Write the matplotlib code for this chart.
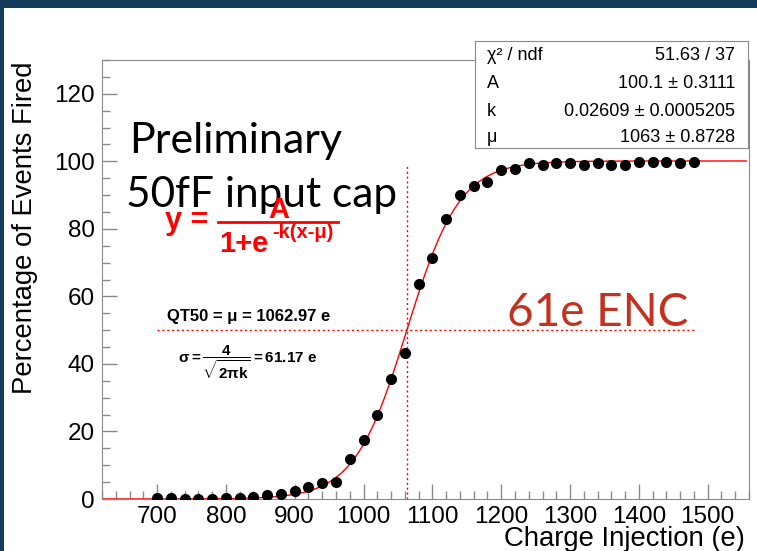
import numpy as np
import matplotlib.pyplot as plt
from matplotlib.patches import Rectangle
from matplotlib.lines import Line2D
from matplotlib.ticker import MultipleLocator

W, H = 757, 551

# measured points: charge injected (e) vs percentage of events fired
charge = [700, 720, 740, 760, 780, 800, 820, 840, 860, 880,
          900, 920, 940, 960, 980, 1000, 1020, 1040, 1060, 1080,
          1100, 1120, 1140, 1160, 1180, 1200, 1220, 1240, 1260, 1280,
          1300, 1320, 1340, 1360, 1380, 1400, 1420, 1440, 1460, 1480]
fired = [0.2, 0.2, 0.0, 0.1, 0.0, 0.2, 0.2, 0.7, 1.2, 1.5,
         2.3, 3.6, 4.6, 5.1, 11.8, 17.4, 24.8, 35.5, 43.2, 63.8,
         71.3, 82.8, 89.9, 92.8, 93.8, 97.3, 97.7, 99.4, 99.0, 99.6,
         99.4, 99.0, 99.4, 99.0, 99.0, 99.8, 99.8, 99.8, 99.4, 99.8]

# fit results (from the stats box)
A_fit, k_fit, mu_fit = 100.1, 0.02609, 1063.0
qt50 = 1062.97

stat_names = ["χ² / ndf", "A", "k", "μ"]
stat_values = ["51.63 / 37", "100.1 ± 0.3111", "0.02609 ± 0.0005205", "1063 ± 0.8728"]

plt.rcParams['font.family'] = ['Liberation Sans', 'DejaVu Sans']
plt.rcParams['mathtext.fontset'] = 'custom'
plt.rcParams['mathtext.rm'] = 'Liberation Sans:bold'
plt.rcParams['mathtext.it'] = 'Liberation Sans:bold'
plt.rcParams['mathtext.bf'] = 'Liberation Sans:bold'


def fx(x):
    return x / W


def fy(y):
    return 1 - y / H


red = '#ff0000'
grey = '#8a8a8a'

fig = plt.figure(figsize=(W / 100, H / 100), dpi=100)
fig.patch.set_facecolor('#133d5a')
fig.add_artist(Rectangle((fx(4), 0), 1, fy(8), transform=fig.transFigure,
                         facecolor='white', edgecolor='none', zorder=-5))

ax = fig.add_axes([fx(102), fy(499), fx(749) - fx(102), fy(60) - fy(499)])
ax.set_xlim(620, 1560)
ax.set_ylim(0, 130)

xs = np.linspace(620, 1556, 600)
ax.plot(xs, A_fit / (1 + np.exp(-k_fit * (xs - mu_fit))), color=red, lw=1, zorder=2)
ax.plot(charge, fired, 'o', color='black', ms=7, zorder=3)
ax.plot([qt50, qt50], [0, 99], color=red, ls=(0, (1.5, 2)), lw=1)
ax.plot([charge[0], charge[-1]], [50, 50], color=red, ls=(0, (1.5, 2)), lw=1)

ax.set_xticks(range(700, 1501, 100))
ax.xaxis.set_minor_locator(MultipleLocator(20))
ax.yaxis.set_major_locator(MultipleLocator(20))
ax.yaxis.set_minor_locator(MultipleLocator(5))
ax.tick_params(which='both', direction='in', color=grey, top=False, right=False,
               labelsize=17.5)
ax.tick_params(which='major', length=10.5, width=1)
ax.tick_params(which='minor', length=5.5, width=1)
ax.tick_params(axis='x', pad=5)
ax.tick_params(axis='y', pad=5)
for s in ax.spines.values():
    s.set_color(grey)

fig.text(fx(25), fy(62), "Percentage of Events Fired", rotation=90,
         ha='center', va='top', fontsize=19.8)
fig.text(fx(745), fy(546), "Charge Injection (e)", ha='right', va='baseline', fontsize=19.8)

# stats box
sb = fig.add_axes([fx(475), fy(148), fx(748) - fx(475), fy(41) - fy(148)], zorder=5)
sb.set_xticks([])
sb.set_yticks([])
for s in sb.spines.values():
    s.set_color(grey)
for name, val, yy in zip(stat_names, stat_values, [55, 83.5, 111, 138]):
    fig.text(fx(487), fy(yy), name, va='center', fontsize=13, zorder=6)
    fig.text(fx(735), fy(yy), val, va='center', ha='right', fontsize=13, zorder=6)

# annotations
fig.text(fx(129), fy(153), "Preliminary", family='Lato', fontsize=31, va='baseline')
fig.text(fx(126), fy(207), "50fF input cap", family='Lato', fontsize=30.5, va='baseline')
fig.text(fx(507), fy(326), "61e ENC", color='#c2321e', family='Lato', fontsize=33,
         va='baseline')

fig.text(fx(165), fy(229), "y =", color=red, weight='bold', fontsize=22, va='baseline', zorder=4)
fig.add_artist(Line2D([fx(218), fx(338)], [fy(222), fy(222)], color=red, lw=2, zorder=4))
fig.text(fx(279), fy(218), "A", color=red, weight='bold', fontsize=21, ha='center',
         va='baseline', zorder=4)
fig.text(fx(219), fy(252), "1+e", color=red, weight='bold', fontsize=21, va='baseline', zorder=4)
fig.text(fx(272), fy(238), "-k(x-μ)", color=red, weight='bold', fontsize=14.5,
         va='baseline', zorder=4)

fig.text(fx(167), fy(321), "QT50 = μ = 1062.97 e", weight='bold', fontsize=12, va='baseline')
fig.text(fx(178), fy(362), r'$\sigma = \dfrac{4}{\sqrt{2\pi k}} = 61.17\ e$', fontsize=11,
         va='center')

fig.savefig("out.png", dpi=100)
